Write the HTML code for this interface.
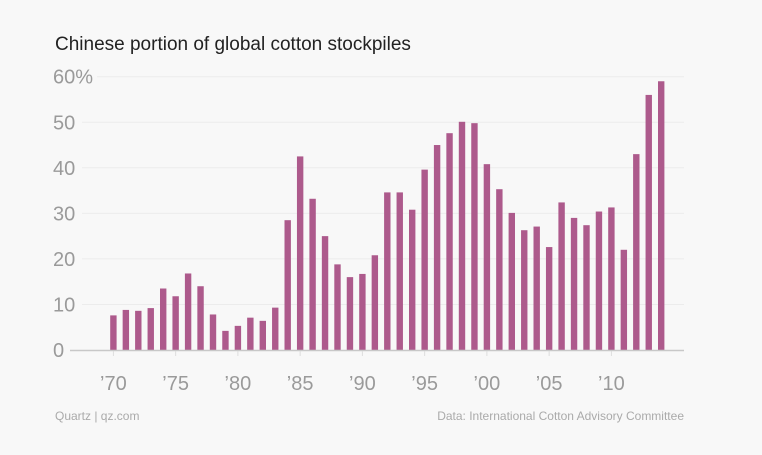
<!DOCTYPE html>
<html><head><meta charset="utf-8"><style>
body{margin:0;background:#f8f8f8;font-family:"Liberation Sans",sans-serif;}
svg{display:block}
</style></head><body>
<svg width="762" height="455">
<rect width="762" height="455" fill="#f8f8f8"/>
<text x="55" y="50" font-size="19" fill="#222">Chinese portion of global cotton stockpiles</text>
<g id="grid"></g><g id="bars"></g><g id="xaxis"></g>
<text x="55" y="420" font-size="12" fill="#aaa">Quartz | qz.com</text>
<text x="684" y="420" font-size="12" fill="#aaa" text-anchor="end">Data: International Cotton Advisory Committee</text>
</svg>
<script>
const years=[1970,1971,1972,1973,1974,1975,1976,1977,1978,1979,1980,1981,1982,1983,1984,1985,1986,1987,1988,1989,1990,1991,1992,1993,1994,1995,1996,1997,1998,1999,2000,2001,2002,2003,2004,2005,2006,2007,2008,2009,2010,2011,2012,2013,2014];
const values=[7.6,8.8,8.6,9.2,13.5,11.8,16.8,14,7.8,4.2,5.3,7.1,6.4,9.3,28.5,42.5,33.2,25,18.8,16,16.7,20.8,34.6,34.6,30.8,39.6,45,47.6,50.1,49.8,40.8,35.3,30.1,26.3,27.1,22.6,32.4,29,27.4,30.4,31.3,22,43,56,59];
const yTicks=[0,10,20,30,40,50,60];
const xTicks=[1970,1975,1980,1985,1990,1995,2000,2005,2010];
const xTickLabels=["’70","’75","’80","’85","’90","’95","’00","’05","’10"];
const NS="http://www.w3.org/2000/svg";
const y=v=>350-v*(273.3/60);
const x=yr=>113.4+(yr-1970)*12.45;
function mk(tag,attrs,parent,text){const e=document.createElementNS(NS,tag);for(const k in attrs)e.setAttribute(k,attrs[k]);if(text!==undefined)e.textContent=text;document.getElementById(parent).appendChild(e);return e;}
yTicks.forEach(t=>{
  if(t>0){const l=mk('line',{x1:t===60?97:82,x2:684,y1:y(t),y2:y(t),stroke:'#ececec','stroke-width':1},'grid');
  
  }
  const tx=mk('text',{x:53,y:y(t)+7,'font-size':20,fill:'#9a9a9a'},'grid',t===60?'60%':String(t));
  
  
});
years.forEach((yr,i)=>{
  const r=mk('rect',{x:x(yr)-3.2,y:y(values[i]),width:6.4,height:350-y(values[i]),fill:'#ad5a8c'},'bars');
  
  
});
const base=mk('line',{x1:70,x2:684,y1:350.5,y2:350.5,stroke:'#c8c8c8','stroke-width':1.5},'xaxis');


xTicks.forEach((t,i)=>{
  const tk=mk('line',{x1:x(t),x2:x(t),y1:351,y2:356,stroke:'#ddd'},'xaxis');
  
  
  const tx=mk('text',{x:x(t),y:390,'font-size':20,fill:'#9a9a9a','text-anchor':'middle'},'xaxis',xTickLabels[i]);
  
  
});
</script>
</body></html>
